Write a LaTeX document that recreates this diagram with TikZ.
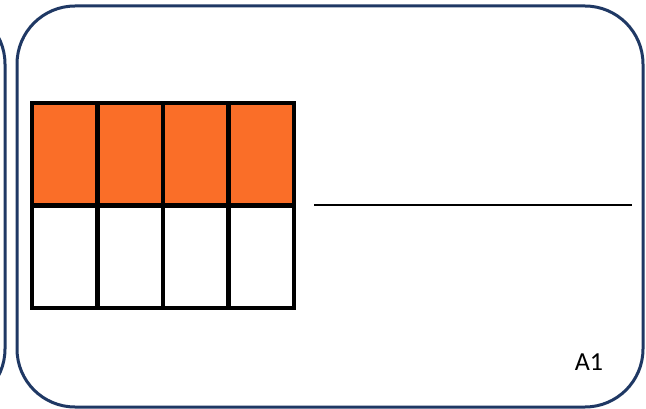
\documentclass[tikz,border=0pt]{standalone}
\usepackage{fontspec}
\setmainfont{Carlito}
\usepackage{xcolor}
\definecolor{cardnavy}{RGB}{31,56,100}
\definecolor{fracorange}{RGB}{250,110,40}

\begin{document}
\begin{tikzpicture}[x=1pt,y=-1pt]
	\useasboundingbox (0,0) rectangle (646,409);
	\newcommand{\cellw}{65.5}
	\newcommand{\cellh}{102.5}
	% neighbouring card, cut off at the left
	\draw[cardnavy, line width=3pt, rounded corners=58pt] (-400,6) rectangle (5,407);
	\draw[cardnavy, line width=3pt, rounded corners=58pt] (17,6) rectangle (643,407);
	\foreach \x in {0,...,3}
	{
		\fill[fracorange] (32+\x*\cellw,103) rectangle ++(\cellw,\cellh);
	}
	\foreach \x in {0,...,4}
	{
		\draw[line width=4.5pt, line cap=rect] (32+\x*\cellw,103) -- ++(0,2*\cellh);
	}
	\foreach \y in {0,1,2}
	{
		\draw[line width=4.5pt, line cap=rect] (32,103+\y*\cellh) -- ++(4*\cellw,0);
	}
	\draw[line width=2.8pt] (314,205) -- (632,205);
	\node[font=\fontsize{26}{30}\selectfont] (cardlabel) at (589,362) {A1};
\end{tikzpicture}
\end{document}
